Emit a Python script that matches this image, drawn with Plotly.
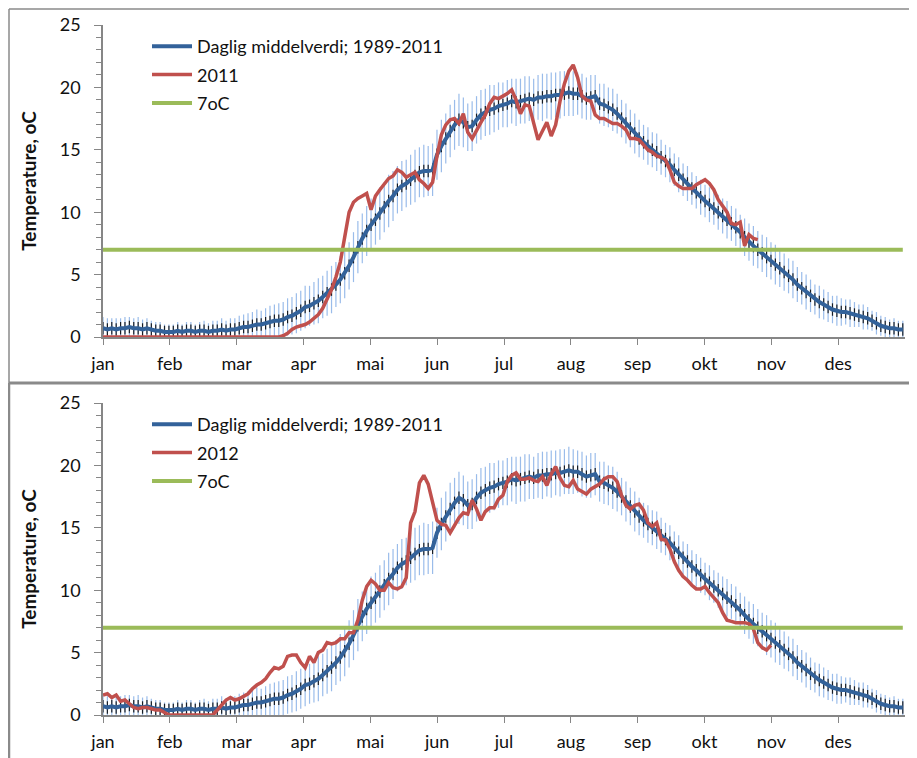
import plotly.graph_objects as go
from plotly.subplots import make_subplots

# the page body has an 8px margin, so the figure is 8px smaller than the window
OFF = 8
W, H = 917 - OFF, 758 - OFF

MONTHS = ["jan", "feb", "mar", "apr", "mai", "jun", "jul", "aug", "sep", "okt", "nov", "des"]
STEP = 2  # one reading every second day of the year
DAYS = list(range(0, 365, STEP))

# daily mean 1989-2011 (every second day)
MEAN = [
    0.7, 0.6, 0.7, 0.6, 0.7, 0.7, 0.8, 0.7, 0.7, 0.6, 0.7, 0.6, 0.5, 0.5, 0.4, 0.4,
    0.4, 0.5, 0.4, 0.5, 0.5, 0.4, 0.5, 0.5, 0.4, 0.5, 0.5, 0.6, 0.5, 0.6,
    0.6, 0.7, 0.8, 0.8, 0.9, 1.0, 1.0, 1.1, 1.2, 1.3, 1.3, 1.4, 1.6, 1.7, 1.9,
    2.1, 2.4, 2.5, 2.7, 2.9, 3.2, 3.5, 3.8, 4.2, 4.6, 5.1, 5.7, 6.4, 7.2, 7.9,
    8.5, 9.0, 9.4, 9.9, 10.4, 10.9, 11.3, 11.8, 12.1, 12.3, 12.6, 12.9, 13.2, 13.3, 13.3,
    13.4, 14.6, 15.3, 15.9, 16.5, 17.0, 17.4, 17.2, 16.8, 16.9, 17.4, 17.8, 18.0, 18.2, 18.3,
    18.5, 18.6, 18.7, 18.9, 18.8, 18.9, 19.0, 19.1, 19.0, 19.2, 19.2, 19.3, 19.3, 19.4, 19.4,
    19.5, 19.6, 19.5, 19.5, 19.3, 19.1, 19.2, 19.3, 18.7, 18.6, 18.4, 18.2, 17.9, 17.5, 17.1,
    16.7, 16.3, 15.9, 15.6, 15.3, 15.0, 14.8, 14.4, 14.1, 13.8, 13.4, 13.0, 12.6, 12.3, 11.9,
    11.6, 11.2, 10.9, 10.6, 10.3, 10.0, 9.7, 9.4, 9.1, 8.8, 8.4, 8.0, 7.6, 7.3, 7.0,
    6.7, 6.4, 6.1, 5.8, 5.5, 5.2, 4.9, 4.6, 4.2, 3.9, 3.6, 3.3, 3.0, 2.8, 2.6,
    2.4, 2.2, 2.1, 2.0, 2.0, 1.9, 1.8, 1.7, 1.6, 1.5, 1.3, 1.1, 0.9, 0.8, 0.7, 0.7, 0.6, 0.6,
]

# standard deviation around the mean (light blue bars)
SD = [
    0.9, 0.9, 0.8, 0.9, 0.8, 0.9, 0.8, 0.8, 0.9, 0.8, 0.8, 0.7, 0.7, 0.7, 0.6, 0.6,
    0.6, 0.7, 0.6, 0.7, 0.7, 0.6, 0.7, 0.8, 0.7, 0.8, 0.8, 0.9, 0.8, 0.9,
    0.9, 1.0, 1.0, 1.1, 1.1, 1.2, 1.1, 1.2, 1.3, 1.3, 1.4, 1.4, 1.5, 1.5, 1.6,
    1.6, 1.7, 1.6, 1.7, 1.8, 1.7, 1.8, 1.9, 1.8, 1.9, 2.0, 1.9, 2.0, 2.1, 2.0,
    2.0, 2.1, 2.0, 2.1, 2.0, 2.1, 2.0, 1.9, 2.0, 1.9, 2.0, 2.1, 2.0, 2.1, 2.0,
    2.1, 2.0, 2.1, 2.0, 2.1, 2.0, 2.1, 2.0, 1.9, 2.0, 1.9, 2.0, 1.9, 2.0, 1.9,
    1.9, 1.8, 1.9, 1.8, 1.9, 1.8, 1.9, 1.8, 1.7, 1.8, 1.9, 1.8, 1.9, 1.8, 1.9,
    1.8, 1.9, 1.8, 1.7, 1.8, 1.7, 1.8, 1.7, 1.6, 1.7, 1.6, 1.7, 1.6, 1.5, 1.6,
    1.5, 1.6, 1.5, 1.4, 1.5, 1.4, 1.5, 1.4, 1.3, 1.4, 1.3, 1.4, 1.3, 1.4, 1.3,
    1.3, 1.4, 1.3, 1.4, 1.3, 1.4, 1.4, 1.5, 1.4, 1.5, 1.4, 1.5, 1.5, 1.6, 1.5,
    1.5, 1.6, 1.5, 1.6, 1.5, 1.5, 1.4, 1.5, 1.4, 1.3, 1.4, 1.3, 1.2, 1.3, 1.2,
    1.2, 1.1, 1.2, 1.1, 1.0, 1.1, 1.0, 0.9, 1.0, 0.9, 0.8, 0.9, 0.8, 0.8, 0.7, 0.8, 0.7, 0.7,
]
SE = 0.5  # half length of the dark bars

T2011 = [
    0.0, 0.0, 0.0, 0.0, 0.0, 0.0, 0.0, 0.0, 0.0, 0.0, 0.0, 0.0, 0.0, 0.0, 0.0, 0.0,
    0.0, 0.0, 0.0, 0.0, 0.0, 0.0, 0.0, 0.0, 0.0, 0.0, 0.0, 0.0, 0.0, 0.0, 0.0, 0.0,
    0.0, 0.0, 0.0, 0.0, 0.0, 0.0, 0.0, 0.0, 0.0,
    0.1, 0.3, 0.6, 0.8, 0.9, 1.0, 1.2, 1.5, 1.8, 2.3, 3.0, 3.8, 4.8, 6.0, 8.0, 10.0,
    10.8, 11.1, 11.3,
    11.5, 10.2, 11.3, 11.8, 12.3, 12.7, 12.9, 13.4, 13.2, 12.8, 13.0, 13.2, 12.6, 12.3,
    11.9, 12.4, 14.5, 16.2, 17.0, 17.4, 17.5,
    17.1, 17.9, 16.4, 15.9, 16.6, 17.2, 17.8, 18.7, 19.2, 19.1, 19.3, 19.5, 19.8, 19.0,
    17.9, 18.6, 18.5, 17.0, 15.8, 16.5, 17.2, 16.1, 17.0, 18.9, 20.3, 21.3, 21.8, 20.8,
    19.3,
    19.0, 18.9, 17.8, 17.5, 17.5, 17.3, 17.1, 17.1, 16.9, 16.6, 15.9, 15.9, 15.8, 15.4,
    15.0, 14.8, 14.5, 14.4, 14.2, 13.4, 12.4, 12.1, 11.9, 11.9, 11.9, 12.2, 12.4, 12.6,
    12.3, 11.8, 11.0, 10.5, 10.0, 9.1, 9.0, 9.2, 7.3, 8.2, 7.9, 7.8,
]

T2012 = [
    1.6, 1.7, 1.4, 1.6, 1.1, 1.2, 0.9, 0.6, 0.5, 0.6, 0.6, 0.5, 0.4, 0.4, 0.2, 0.0,
    0.0, 0.0, 0.0, 0.0, 0.0, 0.0, 0.0, 0.0, 0.0, 0.0,
    0.4, 0.8, 1.2, 1.4, 1.2, 1.3, 1.5, 1.7, 2.1, 2.4, 2.6, 2.9, 3.4, 3.8, 3.7, 3.9,
    4.7, 4.8, 4.8, 4.2,
    3.8, 4.7, 4.2, 5.0, 5.2, 5.8, 5.7, 5.8, 6.1, 6.1, 6.6, 6.6, 7.6, 9.2, 10.3, 10.8,
    10.5, 10.0, 10.0, 10.6, 10.2, 10.1, 10.3, 11.0,
    15.4, 16.3, 18.6, 19.2, 18.5, 17.0, 15.6, 15.3, 15.2, 14.6, 15.2, 15.8,
    16.2, 16.1, 17.2, 16.5, 15.6, 16.3, 16.6, 16.6, 17.3, 17.6, 18.7, 19.2, 19.4, 18.9,
    18.9, 19.0, 18.8, 18.7, 19.1, 18.4, 19.3, 19.9, 19.0, 18.4, 18.3, 18.8, 18.1, 17.9,
    17.7, 18.1, 18.3, 18.5,
    18.9, 19.1, 19.1, 18.7, 17.6, 16.8, 16.5, 16.8, 16.9, 16.4, 15.4, 15.1, 15.4, 14.1,
    14.0, 13.3, 12.3, 11.6, 11.1, 10.8, 10.4, 10.1, 10.1, 10.3, 9.8, 9.4, 9.0, 8.2,
    7.6, 7.5, 7.4, 7.4, 7.4, 7.3, 6.9, 5.8, 5.4, 5.2, 5.6,
]

THRESHOLD = 7

BLUE = "#33629a"
RED = "#c0504d"
GREEN = "#9bbb59"
AXIS = "#868686"
FONT = "Lato, 'Open Sans', sans-serif"


def fx(p):
    # window pixel (from left) -> paper fraction
    return (p - OFF) / W


def fy(p):
    # window pixel (from top) -> paper fraction
    return 1 - (p - OFF) / H


fig = make_subplots(rows=2, cols=1)


def add_panel(row, year_label, year_values, legend_name):
    fig.add_trace(
        go.Scatter(
            x=DAYS, y=MEAN, mode="lines", line={"width": 0, "color": "rgba(0,0,0,0)"},
            error_y={"type": "data", "array": SD, "color": "rgba(100,152,222,0.65)",
                     "thickness": 1.2, "width": 0},
            showlegend=False, hoverinfo="skip", legend=legend_name,
        ),
        row=row, col=1,
    )
    fig.add_trace(
        go.Scatter(
            x=DAYS, y=MEAN, mode="lines", line={"width": 0, "color": "rgba(0,0,0,0)"},
            error_y={"type": "constant", "value": SE, "color": "rgba(0,0,0,0.85)",
                     "thickness": 1.2, "width": 0},
            showlegend=False, hoverinfo="skip", legend=legend_name,
        ),
        row=row, col=1,
    )
    fig.add_trace(
        go.Scatter(x=DAYS, y=MEAN, mode="lines", name="Daglig middelverdi; 1989-2011",
                   line={"color": BLUE, "width": 4}, legend=legend_name,
                   legendgroup=f"m{row}"),
        row=row, col=1,
    )
    fig.add_trace(
        go.Scatter(x=DAYS[:len(year_values)], y=year_values, mode="lines", name=year_label,
                   line={"color": RED, "width": 3.5}, legend=legend_name,
                   legendgroup=f"y{row}"),
        row=row, col=1,
    )
    fig.add_trace(
        go.Scatter(x=[DAYS[0], DAYS[-1]], y=[THRESHOLD, THRESHOLD], mode="lines",
                   name="7oC", line={"color": GREEN, "width": 4}, legend=legend_name,
                   legendgroup=f"g{row}"),
        row=row, col=1,
    )


add_panel(1, "2011", T2011, "legend")
add_panel(2, "2012", T2012, "legend2")

tickvals = [i * 365 / 12 for i in range(12)]
xdom = [fx(103), fx(905)]
ydoms = {1: [fy(337), fy(25)], 2: [fy(715), fy(403)]}

for r in (1, 2):
    fig.update_xaxes(
        domain=xdom, range=[0, 365], tickvals=tickvals, ticktext=MONTHS,
        ticks="outside", ticklen=6, tickcolor=AXIS, showline=True, linecolor=AXIS,
        linewidth=1.5, showgrid=False, zeroline=False, automargin=False,
        tickfont={"size": 18, "color": "#111"}, ticklabelstandoff=4, row=r, col=1,
    )
    fig.update_yaxes(
        domain=ydoms[r], range=[0, 25], dtick=5, ticks="outside", ticklen=7,
        tickcolor=AXIS, showline=True, linecolor=AXIS, linewidth=1.5, showgrid=False,
        zeroline=False, automargin=False, tickfont={"size": 18, "color": "#111"},
        ticklabelstandoff=10,
        minor={"dtick": 1, "ticks": "outside", "ticklen": 5, "tickcolor": AXIS,
               "showgrid": False},
        title={"text": "<b>Temperature, oC</b>", "font": {"size": 19, "color": "#111"},
               "standoff": 18},
        row=r, col=1,
    )

legend_style = {
    "xanchor": "left", "yanchor": "top", "bgcolor": "rgba(0,0,0,0)",
    "font": {"size": 18, "color": "#111"}, "traceorder": "grouped",
    "tracegroupgap": 2, "itemwidth": 40,
}

frame = {"color": "#8a8a8a"}
shapes = [
    # panel frames
    {"type": "line", "xref": "paper", "yref": "paper", "x0": fx(9), "x1": 1,
     "y0": fy(9), "y1": fy(9), "line": {**frame, "width": 1.5}},
    {"type": "line", "xref": "paper", "yref": "paper", "x0": fx(9), "x1": fx(9),
     "y0": fy(9), "y1": fy(383), "line": {**frame, "width": 1.5}},
    {"type": "line", "xref": "paper", "yref": "paper", "x0": fx(9), "x1": 1,
     "y0": fy(383), "y1": fy(383), "line": {**frame, "width": 3}},
    {"type": "line", "xref": "paper", "yref": "paper", "x0": fx(9), "x1": fx(9),
     "y0": fy(383), "y1": 0, "line": {**frame, "width": 2.5}},
]

fig.update_layout(
    width=W, height=H,
    margin={"l": 0, "r": 0, "t": 0, "b": 0},
    plot_bgcolor="white", paper_bgcolor="white",
    font={"family": FONT, "size": 18, "color": "#111"},
    legend={**legend_style, "x": fx(147), "y": fy(28)},
    legend2={**legend_style, "x": fx(147), "y": fy(406)},
    shapes=shapes,
)

fig.write_html("out.html")
